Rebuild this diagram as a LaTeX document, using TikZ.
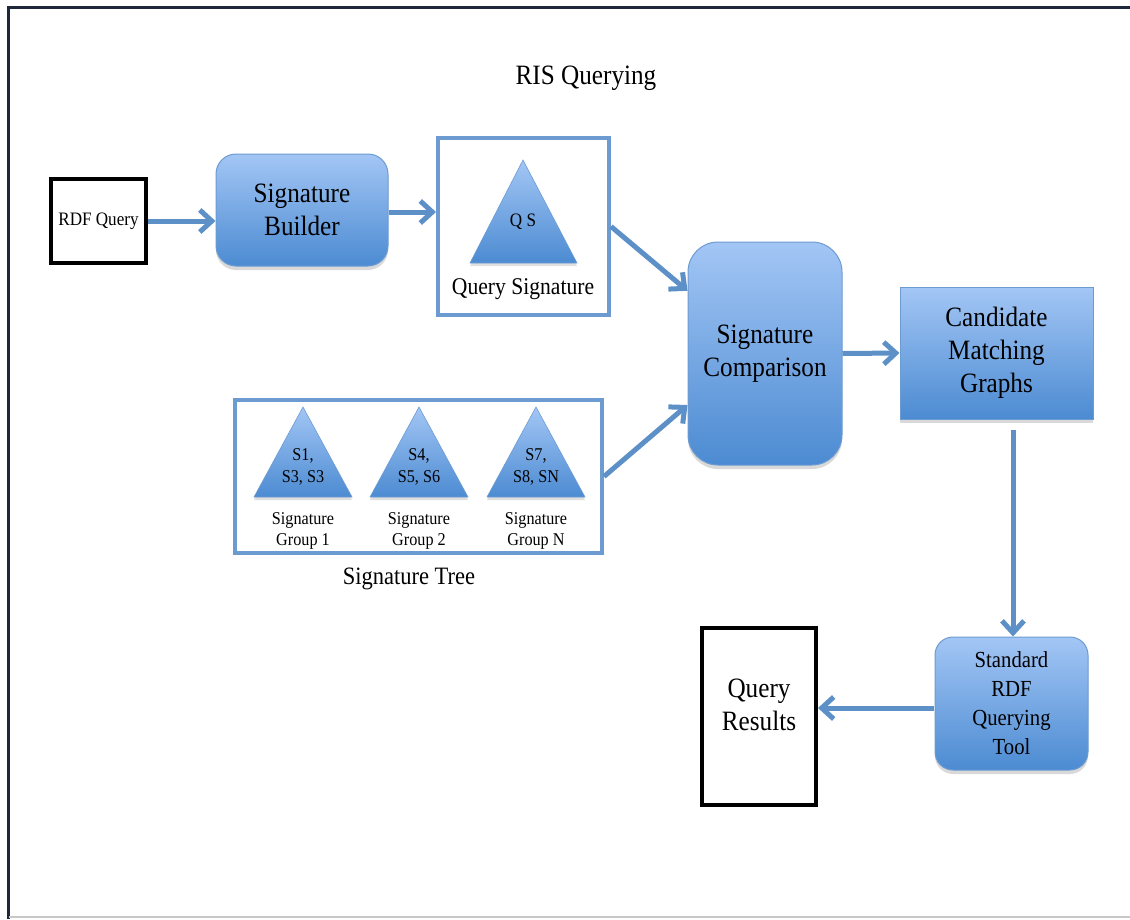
\documentclass[tikz,border=0pt]{standalone}
\usepackage{fontspec}
\setmainfont[FakeStretch=0.9]{Liberation Serif}
\usetikzlibrary{arrows.meta,shadows,calc}
\definecolor{bluetop}{RGB}{163,198,245}
\definecolor{bluebot}{RGB}{76,139,210}
\definecolor{blueline}{RGB}{108,155,210}
\definecolor{arrowblue}{RGB}{92,144,199}
\definecolor{framedark}{RGB}{30,40,58}
\definecolor{framegray}{RGB}{200,200,200}
\begin{document}
\begin{tikzpicture}[x=1pt,y=-1pt,
  bluebox/.style={draw=blueline, line width=1pt, top color=bluetop, bottom color=bluebot,
    drop shadow={shadow xshift=0pt, shadow yshift=-4pt, opacity=0.3}, align=center, inner sep=0pt},
  frameblue/.style={draw=blueline, line width=4pt, inner sep=0pt},
  blackbox/.style={draw=black, line width=4pt, inner sep=0pt, align=center},
  tri/.style={draw=blueline, line width=0.6pt, top color=bluetop, bottom color=bluebot,
    drop shadow={shadow xshift=0pt, shadow yshift=-3pt, opacity=0.25}},
  arr/.style={draw=arrowblue, line width=5pt, -{Straight Barb[length=12pt,width=22pt]}},
  bigfont/.style={font=\fontsize{28}{33}\selectfont},
  lbl/.style={inner sep=0pt, align=center}
]
\useasboundingbox (0,0) rectangle (1130,919);
% outer frame
\draw[framedark, line width=3pt] (8.5,919) -- (8.5,7.5) -- (1130,7.5);
\draw[framegray, line width=1.5pt] (8.5,917) -- (1130,917);

% title
\node[lbl, font=\fontsize{28}{33}\selectfont] (title) at (586,78) {RIS Querying};

% RDF Query
\node[blackbox, minimum width=95pt, minimum height=84pt, font=\fontsize{19}{22}\selectfont] (rdf) at (98.5,221) {RDF Query};

% Signature Builder
\node[bluebox, rounded corners=20pt, minimum width=172pt, minimum height=112pt, bigfont] (sb) at (302,210) {Signature\\Builder};

% Query Signature frame
\node[frameblue, minimum width=171pt, minimum height=177pt] (qsbox) at (523.5,226.5) {};
\path[tri] (523,160) -- (577,263) -- (470,263) -- cycle;
\node[lbl, font=\fontsize{19}{22}\selectfont] (qs) at (523,222) {Q S};
\node[lbl, font=\fontsize{24}{28}\selectfont] (qslabel) at (523,289) {Query Signature};

% Signature Tree frame
\node[frameblue, minimum width=367pt, minimum height=153pt] (stbox) at (418.5,476.5) {};
\path[tri] (303,407) -- (352,497) -- (254,497) -- cycle;
\path[tri] (419,407) -- (468,497) -- (370,497) -- cycle;
\path[tri] (536,407) -- (585,497) -- (487,497) -- cycle;
\node[lbl, font=\fontsize{18}{22}\selectfont] (s1) at (303,467) {S1,\\S3, S3};
\node[lbl, font=\fontsize{18}{22}\selectfont] (s4) at (419,467) {S4,\\S5, S6};
\node[lbl, font=\fontsize{18}{22}\selectfont] (s7) at (536,467) {S7,\\S8, SN};
\node[lbl, font=\fontsize{18}{21}\selectfont] (g1) at (303,531) {Signature\\Group 1};
\node[lbl, font=\fontsize{18}{21}\selectfont] (g2) at (419,531) {Signature\\Group 2};
\node[lbl, font=\fontsize{18}{21}\selectfont] (g3) at (536,531) {Signature\\Group N};
\node[lbl, font=\fontsize{25}{28}\selectfont] (stlabel) at (409,579) {Signature Tree};

% Signature Comparison
\node[bluebox, rounded corners=30pt, minimum width=154pt, minimum height=223pt, bigfont] (sc) at (765,353.5) {Signature\\Comparison};

% Candidate Matching Graphs
\node[bluebox, minimum width=193pt, minimum height=132pt, bigfont] (cmg) at (996.5,353) {Candidate\\Matching\\Graphs};

% Standard RDF Querying Tool
\node[bluebox, rounded corners=18pt, minimum width=153pt, minimum height=133pt, font=\fontsize{23}{29}\selectfont] (srqt) at (1011.5,703.5) {Standard\\RDF\\Querying\\Tool};

% Query Results
\node[blackbox, minimum width=114pt, minimum height=177pt] (qr) at (759,716.5) {};
\node[lbl, bigfont] (qrtext) at (759,705) {Query\\Results};

% connectors
\coordinate (cmgout) at (1013,430);
\coordinate (srqtout) at (934,708);
\coordinate (scin1) at ($(sc.north west)!0.22!(sc.south west)$);
\coordinate (scin2) at ($(sc.north west)!0.73!(sc.south west)$);
\draw[arr] (rdf.east) -- (sb.west |- rdf.east);
\draw[arr] (sb.east |- 0,212) -- (qsbox.west |- 0,212);
\draw[arr] (qsbox.east) -- (scin1);
\draw[arr] (stbox.east) -- (scin2);
\draw[arr] (sc.east) -- (cmg.west);
\draw[arr] (cmgout) -- (cmgout |- srqt.north);
\draw[arr] (srqtout) -- (qr.east |- srqtout);
\end{tikzpicture}
\end{document}
